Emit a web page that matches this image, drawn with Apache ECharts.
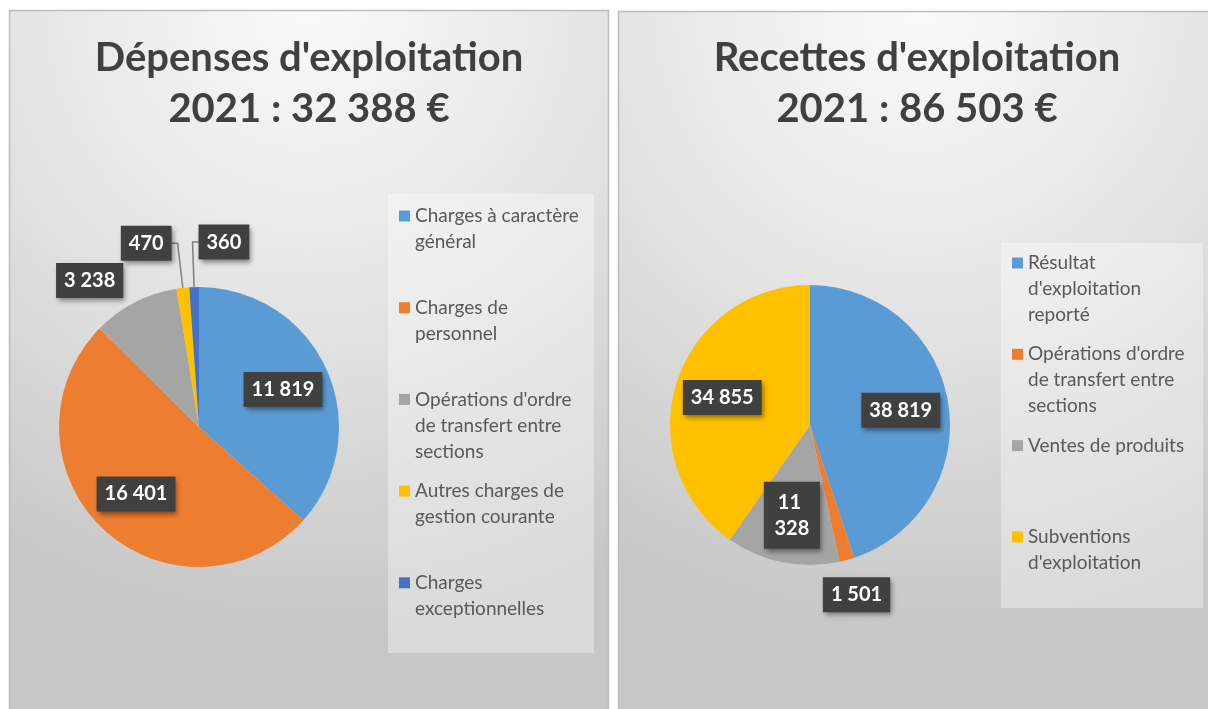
<!DOCTYPE html>
<html>
<head>
<meta charset="utf-8">
<title>Dépenses et recettes d'exploitation 2021</title>
<script src="https://cdn.jsdelivr.net/npm/echarts@6/dist/echarts.min.js"></script>
<style>
html, body { margin: 0; padding: 0; background: #fff; }
#chart { width: 1208px; height: 709px; }
</style>
</head>
<body>
<div id="chart"></div>
<script>
// --- data: dépenses ---
const depensesTitle = "Dépenses d'exploitation\n2021 : 32 388 €"
const depensesNames = [
  'Charges à caractère général',
  'Charges de personnel',
  "Opérations d'ordre de transfert entre sections",
  'Autres charges de gestion courante',
  'Charges exceptionnelles'
]
const depensesValues = [11819, 16401, 3238, 470, 360]
const depensesLegend = [
  ['Charges à caractère', 'général'],
  ['Charges de', 'personnel'],
  ["Opérations d'ordre", 'de transfert entre', 'sections'],
  ['Autres charges de', 'gestion courante'],
  ['Charges', 'exceptionnelles']
]

// --- data: recettes ---
const recettesTitle = "Recettes d'exploitation\n2021 : 86 503 €"
const recettesNames = [
  "Résultat d'exploitation reporté",
  "Opérations d'ordre de transfert entre sections",
  'Ventes de produits',
  "Subventions d'exploitation"
]
const recettesValues = [38819, 1501, 11328, 34855]
const recettesLegend = [
  ['Résultat', "d'exploitation", 'reporté'],
  ["Opérations d'ordre", 'de transfert entre', 'sections'],
  ['Ventes de produits'],
  ['Subventions', "d'exploitation"]
]

// --- styles ---
const depensesColors = ['#5B9BD5', '#ED7D31', '#A5A5A5', '#FFC000', '#4472C4']
const recettesColors = ['#5B9BD5', '#ED7D31', '#A5A5A5', '#FFC000']
const FONT = 'Lato'
const leftCenter = [199, 427]
const rightCenter = [810, 425]
const RADIUS = 140
const LEGEND_LINE = 26
const ICON = 11

// labels drawn outside the slice
const depensesOutside = {
  2: { length: 25, length2: 0, show: false },
  3: { length: 45, length2: 6, show: true },
  4: { length: 45, length2: 6, show: true, flip: true }
}
const recettesOutside = {
  1: { length: 25, length2: 0, show: false, radial: 36 }
}
const recettesWrap = { 2: 40 }

function fmt(v) {
  return String(v).replace(/\B(?=(\d{3})+(?!\d))/g, ' ')
}

function buildData(names, values, colors, outside, wrap) {
  return values.map((v, i) => {
    const item = { name: names[i], value: v, itemStyle: { color: colors[i] } }
    const o = outside[i]
    if (o) {
      item.label = { position: 'outside' }
      item.labelLine = { show: o.show, length: o.length, length2: o.length2 }
    }
    if (wrap && wrap[i]) {
      item.label = Object.assign(item.label || {}, { width: wrap[i], overflow: 'break', align: 'center', lineHeight: 26 })
    }
    return item
  })
}

// bisector angle of slice i (radians, clockwise from top)
function midAngle(values, i) {
  const total = values.reduce((a, b) => a + b, 0)
  const before = values.slice(0, i).reduce((a, b) => a + b, 0)
  return ((before + values[i] / 2) / total) * Math.PI * 2
}

function makeLayout(center, values, outside) {
  return function (p) {
    const o = outside[p.dataIndex]
    if (!o) {
      const lx = p.labelRect.x + p.labelRect.width / 2
      const ly = p.labelRect.y + p.labelRect.height / 2
      return { dx: (lx - center[0]) * 0.26, dy: (ly - center[1]) * 0.26 }
    }
    if (o.radial) {
      const a = midAngle(values, p.dataIndex)
      const d = RADIUS + o.radial
      return { x: center[0] + Math.sin(a) * d, y: center[1] - Math.cos(a) * d, align: 'center', verticalAlign: 'middle' }
    }
    if (o.flip && p.labelLinePoints) {
      const pts = p.labelLinePoints
      const end = [pts[1][0] + o.length2, pts[1][1]]
      return { x: end[0], y: end[1], align: 'left', verticalAlign: 'middle', labelLinePoints: [pts[0], pts[1], end] }
    }
    return {}
  }
}

// one legend per entry: first text line level with the swatch
function buildLegends(names, lines, colors, left, firstY, step) {
  return names.map((name, i) => {
    const n = lines[i].length
    const h = (2 * n - 1) * LEGEND_LINE
    const text = new Array(n - 1).fill(' ').concat(lines[i]).join('\n')
    return {
      left: left,
      top: firstY + i * step - Math.max(h, ICON) / 2,
      orient: 'vertical',
      padding: 0,
      itemWidth: ICON,
      itemHeight: ICON,
      selectedMode: false,
      icon: 'rect',
      formatter: () => text,
      textStyle: { fontFamily: FONT, fontSize: 19, color: '#595959', lineHeight: LEGEND_LINE },
      data: [{ name: name, itemStyle: { color: colors[i] } }]
    }
  })
}

const labelStyle = {
  show: true,
  position: 'inside',
  formatter: p => fmt(p.value),
  color: '#fff',
  fontFamily: FONT,
  fontWeight: 'bold',
  fontSize: 20,
  backgroundColor: '#404040',
  padding: [8, 8, 7, 8],
  shadowBlur: 5,
  shadowColor: 'rgba(0,0,0,0.45)',
  shadowOffsetX: 2,
  shadowOffsetY: 3,
  distanceToLabelLine: 0
}

function panel(x, y, w, h) {
  return {
    type: 'rect',
    z: -10,
    shape: { x: x, y: y, width: w, height: h },
    style: {
      fill: new echarts.graphic.RadialGradient(0.5, 0, 1.05, [
        { offset: 0, color: '#fafafa' },
        { offset: 0.5, color: '#e3e3e3' },
        { offset: 1, color: '#c6c6c6' }
      ]),
      stroke: '#bdbdbd',
      lineWidth: 1.5
    }
  }
}

function legendBox(x, y, w, h) {
  return {
    type: 'rect',
    z: -5,
    shape: { x: x, y: y, width: w, height: h },
    style: { fill: 'rgba(255,255,255,0.35)' }
  }
}

const titleStyle = { fontFamily: FONT, fontWeight: 'bold', fontSize: 40, lineHeight: 51, color: '#404040' }

const chart = echarts.init(document.getElementById('chart'))
chart.setOption({
  animation: false,
  graphic: [
    panel(9.5, 10.5, 599, 720),
    panel(618.5, 11.5, 600, 720),
    legendBox(388, 194, 206, 459),
    legendBox(1001, 243, 202, 365)
  ],
  title: [
    { text: depensesTitle, left: 309, top: 33, textAlign: 'center', padding: 0, textStyle: titleStyle },
    { text: recettesTitle, left: 917, top: 33, textAlign: 'center', padding: 0, textStyle: titleStyle }
  ],
  legend: buildLegends(depensesNames, depensesLegend, depensesColors, 399, 216, 91.7)
    .concat(buildLegends(recettesNames, recettesLegend, recettesColors, 1012, 263, 91.3)),
  series: [
    {
      name: 'Dépenses',
      type: 'pie',
      center: leftCenter,
      radius: RADIUS,
      startAngle: 90,
      clockwise: true,
      avoidLabelOverlap: false,
      emphasis: { disabled: true },
      label: labelStyle,
      labelLine: { lineStyle: { color: '#7f7f7f', width: 1.5 } },
      labelLayout: makeLayout(leftCenter, depensesValues, depensesOutside),
      data: buildData(depensesNames, depensesValues, depensesColors, depensesOutside)
    },
    {
      name: 'Recettes',
      type: 'pie',
      center: rightCenter,
      radius: RADIUS,
      startAngle: 90,
      clockwise: true,
      avoidLabelOverlap: false,
      emphasis: { disabled: true },
      label: labelStyle,
      labelLine: { lineStyle: { color: '#7f7f7f', width: 1.5 } },
      labelLayout: makeLayout(rightCenter, recettesValues, recettesOutside),
      data: buildData(recettesNames, recettesValues, recettesColors, recettesOutside, recettesWrap)
    }
  ]
})
</script>
</body>
</html>
